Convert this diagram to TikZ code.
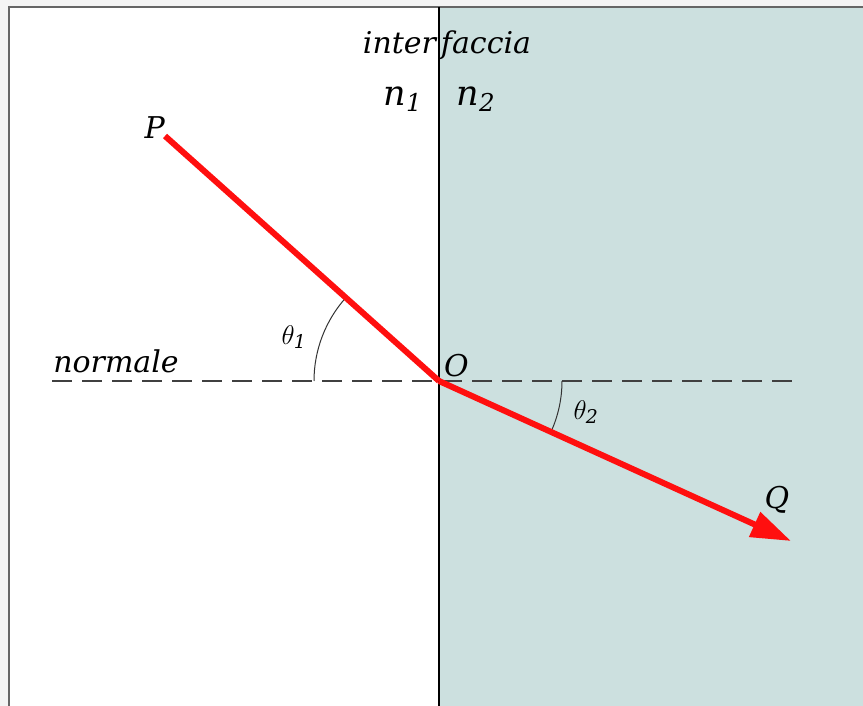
\RequirePackage{fix-cm}
\documentclass[tikz,border=0pt]{standalone}
\usepackage{fontspec}
\setmainfont{DejaVu Serif}
\usetikzlibrary{arrows.meta, positioning, calc}
\definecolor{mediumteal}{HTML}{CCE0DF}
\definecolor{rayred}{HTML}{FF0F0F}
\definecolor{pagegray}{HTML}{F4F4F4}
\tikzset{
    lbl/.style={inner sep=1pt, font=\fontsize{30}{36}\selectfont\itshape},
    biglbl/.style={lbl, font=\fontsize{35}{42}\selectfont\itshape},
    anglbl/.style={inner sep=1pt, font=\fontsize{27}{32}\selectfont},
    ray/.style={line width=6pt, draw=rayred},
    rayarrow/.style={ray, -{Triangle[length=40pt, width=26pt]}},
    normalline/.style={dashed, dash pattern=on 20pt off 10pt, line width=1.5pt, draw=black!75},
    anglearc/.style={line width=1pt, draw=black!80}
}
\begin{document}
\begin{tikzpicture}[x=1pt, y=1pt]
    \useasboundingbox (0,0) rectangle (863,706);
    \fill[pagegray] (0,0) rectangle (863,706);
    % the two media
    \fill[white] (9,0) rectangle (439,699);
    \fill[mediumteal] (439,0) rectangle (863,699);
    \draw[line width=2pt, draw=black!60] (9,-5) -- (9,699) -- (870,699);
    \coordinate (O) at (439,325);
    \coordinate (P) at (165,570);
    \coordinate (Q) at (791,165);
    \coordinate (top) at (439,699);
    \coordinate (bottom) at (439,0);
    \coordinate (nleft) at (52,325);
    \coordinate (nright) at (795,325);
    \draw[line width=2.5pt] (top) -- (bottom);
    \draw[normalline] (nleft) -- (nright);
    % angles
    \draw[anglearc] ($(O)+(180:125)$) arc[start angle=180, end angle=138.2, radius=125];
    \draw[anglearc] ($(O)+(0:123)$) arc[start angle=0, end angle=-24.4, radius=123];
    % rays
    \draw[ray] (P) -- (O);
    \draw[rayarrow] (O) -- (Q);
    % labels
    \node[lbl] (iface) at (447,661) {inter\,faccia};
    \node[biglbl] (n1) at (403,607) {n\textsubscript{1}};
    \node[biglbl] (n2) at (476,607) {n\textsubscript{2}};
    \node[lbl, above left=-4pt and -1pt of P] (Plbl) {P};
    \node[lbl, above right=3pt and 4pt of O] (Olbl) {O};
    \node[lbl] (Qlbl) at (777,206) {Q};
    \node[lbl] (normale) at (116,345) {normale};
    \node[anglbl] (th1) at (294,369) {$\theta_{\mathit{1}}$};
    \node[anglbl] (th2) at (586,294) {$\theta_{\mathit{2}}$};
\end{tikzpicture}
\end{document}
